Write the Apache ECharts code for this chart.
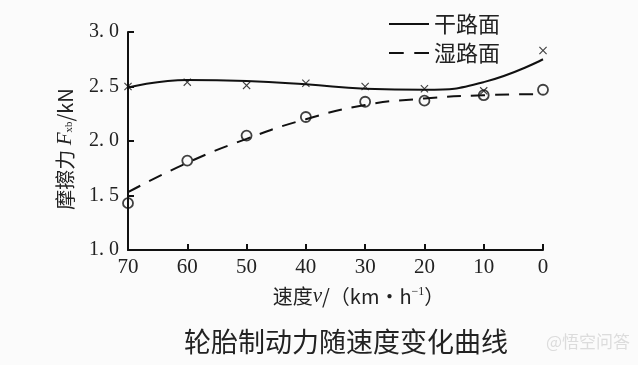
<!DOCTYPE html>
<html><head><meta charset="utf-8">
<script src="https://cdn.jsdelivr.net/npm/echarts@6/dist/echarts.min.js"></script>
<style>html,body{margin:0;padding:0;background:#fbfbfb;}#c{width:638px;height:365px;}</style>
</head><body><div id="c"></div>
<script>
var speeds = [70, 60, 50, 40, 30, 20, 10, 0];
var dryPoints = [2.50, 2.54, 2.51, 2.53, 2.50, 2.48, 2.46, 2.83];
var wetPoints = [1.43, 1.82, 2.05, 2.22, 2.36, 2.37, 2.42, 2.47];
var dryCurve = [2.49, 2.56, 2.55, 2.52, 2.48, 2.47, 2.54, 2.75];
var wetCurve = [1.53, 1.80, 2.02, 2.20, 2.33, 2.39, 2.42, 2.43];
var yTicks = [1.0, 1.5, 2.0, 2.5, 3.0];
var title = '轮胎制动力随速度变化曲线';

function pairs(xs, ys){ return xs.map(function(x,i){return [x, ys[i]];}); }
var serif = '"Liberation Serif","DejaVu Serif",serif';
var cjk = '"Noto Sans CJK SC",sans-serif';
var X = 'path://M0,1L1,0L5,4L9,0L10,1L6,5L10,9L9,10L5,6L1,10L0,9L4,5Z';

var chart = echarts.init(document.getElementById('c'));
chart.setOption({
  backgroundColor: '#fbfbfb',
  animation: false,
  grid: {left: 128, right: 95, top: 32, bottom: 115},
  legend: {
    right: 133, top: 8, orient: 'vertical', itemGap: 7, itemWidth: 40, itemHeight: 14,
    textStyle: {fontFamily: cjk, fontSize: 22, color: '#222'},
    data: [{name: '干路面', icon: 'path://M0,6L40,6L40,8L0,8Z'}, {name: '湿路面', icon: 'path://M0,6L14,6L14,8L0,8ZM24,6L38,6L38,8L24,8Z'}]
  },
  xAxis: {
    type: 'value', inverse: true, min: 0, max: 70, interval: 10,
    axisLine: {lineStyle: {color: '#111', width: 2}},
    axisTick: {inside: true, length: 6, lineStyle: {color: '#111', width: 2}},
    axisLabel: {fontFamily: serif, fontSize: 21, color: '#222', margin: 7},
    splitLine: {show: false},
    name: '速度{i|v}/（km・h{s|−1}）', nameLocation: 'middle', nameGap: 36,
    nameTextStyle: {fontFamily: cjk, fontSize: 20, color: '#222', padding: [0, 0, 0, 46],
      rich: {i: {fontFamily: serif, fontStyle: 'italic', fontSize: 21, color: '#222'},
             s: {fontFamily: serif, fontSize: 12, verticalAlign: 'top', color: '#222', padding: [0,0,8,0]}}}
  },
  yAxis: {
    type: 'value', min: 1, max: 3, interval: 0.5,
    axisLine: {show: true, onZero: false, lineStyle: {color: '#111', width: 2}},
    axisTick: {show: true, inside: true, length: 6, lineStyle: {color: '#111', width: 2}},
    axisLabel: {fontFamily: serif, fontSize: 20, color: '#222', margin: 9,
      formatter: function(v){ return v.toFixed(1).replace('.', '. '); }},
    splitLine: {show: false},
    name: '摩擦力 {i|F}{s|xb}/kN', nameLocation: 'middle', nameGap: 52, nameRotate: 90,
    nameTextStyle: {fontFamily: cjk, fontSize: 20, color: '#222', padding: [0, 16, 0, 0],
      rich: {i: {fontFamily: serif, fontStyle: 'italic', fontSize: 21, color: '#222'},
             s: {fontFamily: serif, fontSize: 11, color: '#222', padding: [8,0,0,0]}}}
  },
  series: [
    {name: '干路面', type: 'line', smooth: 0.5, data: pairs(speeds, dryCurve), showSymbol: false,
     lineStyle: {color: '#111', width: 2}, itemStyle: {color: '#111'}},
    {name: '湿路面', type: 'line', smooth: 0.5, data: pairs(speeds, wetCurve), showSymbol: false,
     lineStyle: {color: '#111', width: 2, type: [14, 10]}, itemStyle: {color: '#111'}},
    {name: 'dryPts', type: 'scatter', data: pairs(speeds, dryPoints), symbol: X, symbolSize: 8,
     itemStyle: {color: '#111'}},
    {name: 'wetPts', type: 'scatter', data: pairs(speeds, wetPoints), symbol: 'circle', symbolSize: 10,
     itemStyle: {color: 'rgba(0,0,0,0)', borderColor: '#111', borderWidth: 1.8}}
  ],
  graphic: [
    {type: 'text', left: 184, top: 328, style: {text: title, fontFamily: cjk, fontSize: 27, fill: '#222'}},
    {type: 'text', right: 8, top: 333, style: {text: '@悟空问答', fontFamily: cjk, fontSize: 17, fill: 'rgba(200,200,200,0.6)'}}
  ]
});
</script></body></html>
